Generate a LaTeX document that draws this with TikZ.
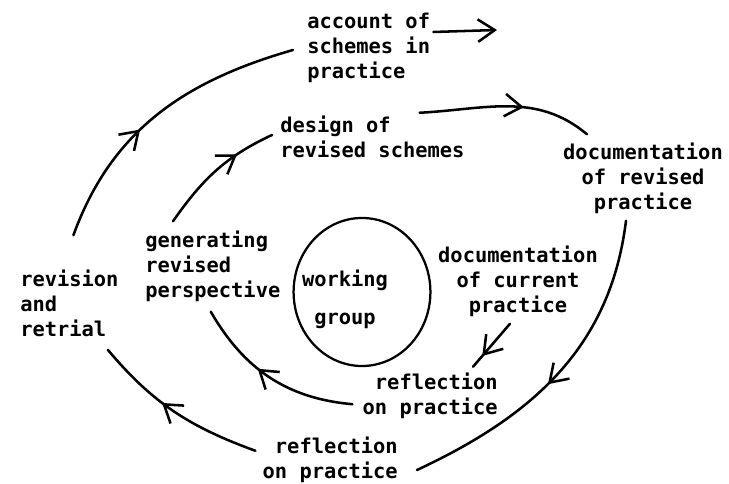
\documentclass[tikz,border=0pt]{standalone}
\usepackage{fontspec}
\newfontfamily\typewriter{DejaVu Sans Mono}
\usetikzlibrary{calc}
\usetikzlibrary{arrows.meta}
\usetikzlibrary{shapes.geometric}
\usetikzlibrary{decorations.markings}
\tikzset{barb/.tip={Straight Barb[length=12pt,width=16pt]}}
\tikzset{
  lbl/.style={inner sep=0, font=\typewriter\bfseries\fontsize{14.5}{17.8}\selectfont},
  loop/.style={line width=1.8pt, line cap=round},
  midarrow/.style={postaction={decorate,decoration={markings,mark=at position #1 with {\arrow{barb}}}}},
}

\begin{document}
\begin{tikzpicture}[x=0.025cm, y=0.025cm]
\useasboundingbox (0,0) rectangle (729,484);

\node[lbl, anchor=west, align=left] (acc) at (307,436) {account of\\schemes in\\practice};
\node[lbl, anchor=west, align=left] (des) at (280,347) {design of\\revised schemes};
\node[lbl, align=center] (docrev) at (643,306) {documentation\\of revised\\practice};
\node[lbl, anchor=west, align=left] (gen) at (145,218) {generating\\revised\\perspective};
\node[lbl, anchor=west, align=left] (rev) at (20,181) {revision\\and\\retrial};
\node[lbl, align=center] (doccur) at (518,203) {documentation\\of current\\practice};
\node[lbl, anchor=east, align=right] (refin) at (498,88) {reflection\\on practice};
\node[lbl, anchor=east, align=right] (refout) at (398,24) {reflection\\on practice};
\node[draw, ellipse, line width=1.6pt, minimum width=3.42cm, minimum height=3.7cm] (wg) at (362,192) {};
\node[lbl, align=center] (wgtext) at (345,185) {working\\[9pt]group};
\coordinate (accend) at (497,454);

\draw[loop, midarrow=0.42] ($(rev.north)+(4,34)$) to[out=70, in=196] ($(acc.west)+(-14,-2)$);
\draw[loop, midarrow=0.7] ($(gen.north west)+(28,9)$) to[out=55, in=205] ($(des.west)+(-8,2)$);
\draw[loop, -barb] ($(acc.east)+(3,16)$) -- (accend);
\draw[loop, midarrow=0.6] ($(des.north east)+(-45,3)$) to[out=3, in=140] ($(docrev.north west)+(24,8)$);
\draw[loop, midarrow=0.54] ($(docrev.south)+(-17,-7)$) to[out=-97, in=25] ($(refout.east)+(19,-10)$);
\draw[loop, midarrow=0.75] ($(doccur.south)+(-8,-7)$) -- ($(refin.north east)+(-25,6)$);
\draw[loop, midarrow=0.58] ($(refin.south west)+(-10,15)$) to[out=175, in=-60] ($(gen.south)+(-2,-10)$);
\draw[loop, midarrow=0.58] ($(refout.north west)+(-7,-14)$) to[out=160, in=-50] ($(rev.south east)+(-11,-13)$);
\end{tikzpicture}
\end{document}
